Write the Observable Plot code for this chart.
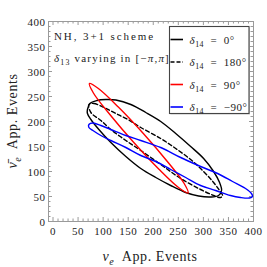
<!DOCTYPE html>
<html><head><meta charset="utf-8">
<script src="https://cdn.jsdelivr.net/npm/d3@7"></script>
<script src="https://cdn.jsdelivr.net/npm/@observablehq/plot@0.6"></script>
<style>body{margin:0;background:#fff}</style>
</head><body><div id="chart"></div>
<script>
// ---- data ----
const seriesNames = ["δ14 = 0°", "δ14 = 180°", "δ14 = 90°", "δ14 = −90°"];
const xTicks = [0, 50, 100, 150, 200, 250, 300, 350, 400];
const yTicks = [0, 50, 100, 150, 200, 250, 300, 350, 400];
const minorTicks = [10,20,30,40,60,70,80,90,110,120,130,140,160,170,180,190,210,220,230,240,260,270,280,290,310,320,330,340,360,370,380,390];

// delta14 = 0 (solid black)
const d0x = [68.7,73.6,87.6,105.5,125.4,155.2,185.1,214.9,244.8,274.6,300.5,320.4,332.3,336.3,330.3,314.4,290.5,264.7,234.8,205,175.1,145.3,115.4,91.5,75.6,68.7];
const d0y = [224,236,242,244,243,234,218,200,176,150,126,100,78,62,52,49,51,58,72,88,106,130,158,184,204,216];
// delta14 = 180 (dashed black)
const d180x = [71.6,81.6,101.5,125.4,149.3,175.1,214.9,244.8,274.6,300.5,320.4,332.3,338.3,334.3,320.4,294.5,254.7,214.9,175.1,145.3,115.4,95.5,75.6];
const d180y = [234,236,228,216,204,188,166,146,124,100,78,62,52,48,52,64,86,114,142,162,184,202,218];
// delta14 = 90 (red)
const d90x = [72.6,90.5,130.3,181.1,228.9,261.7,269.6,251.7,211.9,161.2,113.4,80.6];
const d90y = [276,266,229,175,119,76,57,67,104,158,214,257];
// delta14 = -90 (blue)
const dm90x = [71.6,79.6,95.5,115.4,145.3,175.1,214.9,254.7,294.5,328.4,358.2,384.1,396,398,392,374.1,354.2,324.4,294.5,264.7,234.8,205,175.1,145.3,115.4,95.5,79.6,71.6];
const dm90y = [194,197,192,184,172,162,148,128,110,96,80,66,56,50,47,48,52,62,72,88,104,120,132,148,162,172,182,188];

const pts = (xs, ys) => xs.map((x, i) => ({x, y: ys[i]}));

const W = 267, H = 267, mL = 48, mR = 14, mT = 21, mB = 46;
const fw = W - mL - mR, fh = H - mT - mB;
const serif = "Liberation Serif, serif";
const tickCol = "#9a9a9a";

const plot = Plot.plot({
  width: W, height: H,
  marginLeft: mL, marginRight: mR, marginTop: mT, marginBottom: mB,
  x: {domain: [-9, 400]},
  y: {domain: [0, 400]},
  style: {fontFamily: serif, fontSize: "11px", color: "#222", background: "white"},
  marks: [
    Plot.frame({stroke: tickCol}),
    Plot.tickX(xTicks, {x: d => d, stroke: tickCol, insetTop: fh - 4}),
    Plot.tickX(xTicks, {x: d => d, stroke: tickCol, insetBottom: fh - 4}),
    Plot.tickX(minorTicks, {x: d => d, stroke: tickCol, insetTop: fh - 2.5}),
    Plot.tickX(minorTicks, {x: d => d, stroke: tickCol, insetBottom: fh - 2.5}),
    Plot.tickY(yTicks, {y: d => d, stroke: tickCol, insetRight: fw - 4}),
    Plot.tickY(yTicks, {y: d => d, stroke: tickCol, insetLeft: fw - 4}),
    Plot.tickY(minorTicks, {y: d => d, stroke: tickCol, insetRight: fw - 2.5}),
    Plot.tickY(minorTicks, {y: d => d, stroke: tickCol, insetLeft: fw - 2.5}),
    Plot.axisX(xTicks, {tickSize: 0, tickPadding: 6, label: null, fontSize: 11}),
    Plot.axisY(yTicks, {tickSize: 0, tickPadding: 3, label: null, fontSize: 11, dy: 1}),
    Plot.line(pts(d0x, d0y), {x: "x", y: "y", stroke: "black", strokeWidth: 1.4, curve: "catmull-rom-closed"}),
    Plot.line(pts(d180x, d180y), {x: "x", y: "y", stroke: "black", strokeWidth: 1.4, strokeDasharray: "4,2.5", curve: "catmull-rom-closed"}),
    Plot.line(pts(d90x, d90y), {x: "x", y: "y", stroke: "#ff0000", strokeWidth: 1.4, curve: "catmull-rom-closed"}),
    Plot.line(pts(dm90x, dm90y), {x: "x", y: "y", stroke: "#0000ff", strokeWidth: 1.4, curve: "catmull-rom-closed"})
  ]
});
document.getElementById("chart").appendChild(plot);

const svg = d3.select(plot);
svg.selectAll("g[aria-label$='tick label'] text").attr("letter-spacing", 0.5);

function rich(x, y, parts, {size = 11, anchor = "start", rotate = 0, ls = 0} = {}) {
  const t = svg.append("text").attr("x", x).attr("y", y)
    .attr("font-size", size).attr("text-anchor", anchor)
    .attr("letter-spacing", ls).attr("font-family", serif).attr("fill", "#222");
  if (rotate) t.attr("transform", `rotate(${rotate},${x},${y})`);
  const shift = size * 0.28;
  for (const p of parts) {
    const ts = t.append("tspan").text(p.t);
    if (p.i) ts.attr("font-style", "italic");
    if (p.sub) ts.attr("dy", shift).attr("font-size", size * 0.72);
    if (p.back) ts.attr("dy", -shift);
  }
  return t;
}

// annotations
rich(54, 39.5, [{t: "NH, 3+1 scheme"}], {ls: 1.9});
rich(54, 62, [{t: "δ", i: 1}, {t: "13", sub: 1}, {t: " varying in [−", back: 1}, {t: "π", i: 1}, {t: ","}, {t: "π", i: 1}, {t: "]"}], {ls: 1.2});

// axis labels
rich(150, 261, [{t: "ν", i: 1}, {t: "e", i: 1, sub: 1}, {t: "  App. Events", back: 1}], {size: 14, anchor: "middle", ls: 0.6});
rich(17, 121, [{t: "\u03BD\u0304", i: 1}, {t: "e", i: 1, sub: 1}, {t: "  App. Events", back: 1}], {size: 14, anchor: "middle", rotate: -90, ls: 0.6});

// legend
const lg = {x: 169.5, y: 26.5, w: 79.5, h: 87};
svg.append("rect").attr("x", lg.x + 1).attr("y", lg.y + 1).attr("width", lg.w).attr("height", lg.h).attr("fill", "#ccc");
svg.append("rect").attr("x", lg.x).attr("y", lg.y).attr("width", lg.w).attr("height", lg.h).attr("fill", "white").attr("stroke", "#444").attr("stroke-width", 1.1);
const legendStyles = [
  {stroke: "black", dash: null},
  {stroke: "black", dash: "4,2"},
  {stroke: "#ff0000", dash: null},
  {stroke: "#0000ff", dash: null}
];
const rowsY = [39.5, 62, 84.5, 107];
seriesNames.forEach((name, i) => {
  const y = rowsY[i];
  const ln = svg.append("line").attr("x1", 170.5).attr("x2", 183).attr("y1", y).attr("y2", y)
    .attr("stroke", legendStyles[i].stroke).attr("stroke-width", 1.6);
  if (legendStyles[i].dash) ln.attr("stroke-dasharray", legendStyles[i].dash);
  const m = name.match(/^δ(\d+)(.*)$/);
  rich(189.5, y + 4, [{t: "δ", i: 1}, {t: m[1], sub: 1}, {t: m[2].replace(" = ", "  =  "), back: 1}], {size: 11, ls: 0.5});
});
</script>
</body></html>
